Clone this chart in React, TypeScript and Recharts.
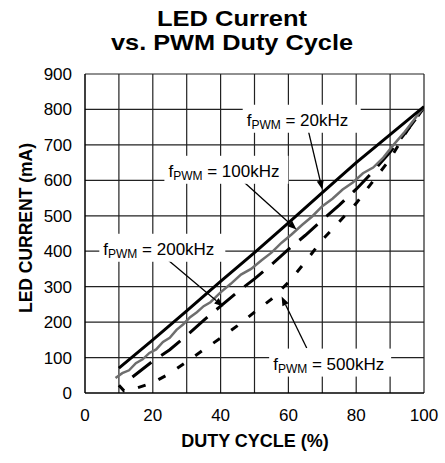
import React from "react";
import {
  LineChart,
  Line,
  XAxis,
  YAxis,
  ReferenceLine,
  ReferenceDot,
} from "recharts";

// axis ticks and grid
const dutyTicks = [0, 20, 40, 60, 80, 100];
const dutyGrid = [10, 20, 30, 40, 50, 60, 70, 80, 90, 100];
const currentTicks = [0, 100, 200, 300, 400, 500, 600, 700, 800, 900];

// f_PWM = 20kHz (solid)
const duty20k = [10, 20, 30, 40, 50, 60, 70, 80, 90, 100];
const current20k = [70, 150, 232, 315, 396, 480, 565, 650, 729, 808];

// f_PWM = 100kHz (grey, jagged)
const duty100k = [9, 11, 13, 15, 17, 19, 21, 23, 25, 27, 29, 31, 33, 35, 37, 40, 43, 46, 49, 52, 55, 58, 61, 64, 67, 70, 73, 76, 79, 82, 85, 88, 91, 94, 97, 100];
const current100k = [42, 56, 64, 84, 95, 113, 123, 144, 156, 178, 194, 214, 228, 245, 256, 284, 308, 334, 350, 374, 396, 424, 448, 474, 498, 527, 548, 574, 594, 620, 636, 664, 700, 733, 770, 808];

// f_PWM = 200kHz (long dash)
const duty200k = [14, 20, 25, 30, 35, 40, 45, 50, 55, 60, 65, 70, 75, 80, 85, 90, 95, 100];
const current200k = [45, 90, 122, 162, 205, 245, 285, 322, 362, 405, 445, 488, 530, 575, 625, 680, 740, 805];

// f_PWM = 500kHz (short dash)
const duty500k = [10, 11.5, 15, 20, 25, 30, 35, 40, 45, 50, 55, 60, 65, 70, 75, 80, 85, 90, 95, 100];
const current500k = [22, 6, 13, 29, 55, 88, 122, 155, 190, 228, 265, 312, 370, 432, 483, 535, 598, 660, 740, 805];

// annotation text anchors and arrows (data coords)
const noteLabels = ["20kHz", "100kHz", "200kHz", "500kHz"];
const noteAt = [[47.7, 754], [24.6, 610], [5.4, 390], [55.5, 66]];
const noteBoxW = [118, 124, 126, 122];
const arrowFrom = [[65.8, 743], [46.7, 597], [23.6, 382], [65.4, 127]];
const arrowTo = [[70.0, 574], [62.4, 461], [40.8, 244], [58.0, 272]];

const FONT = "'Liberation Sans', Arial, sans-serif";

const toPoints = (xs: number[], ys: number[]) => xs.map((x, i) => ({ x, y: ys[i] }));

const Arrow = (props: any) => {
  const { x1, y1, x2, y2 } = props;
  if ([x1, y1, x2, y2].some((v) => typeof v !== "number" || isNaN(v))) return null;
  const ang = Math.atan2(y2 - y1, x2 - x1);
  const len = 9;
  const w = 3.5;
  const bx = x2 - len * Math.cos(ang);
  const by = y2 - len * Math.sin(ang);
  const px = -Math.sin(ang) * w;
  const py = Math.cos(ang) * w;
  return (
    <g>
      <line x1={x1} y1={y1} x2={bx} y2={by} stroke="#000" strokeWidth={1.3} />
      <polygon points={`${x2},${y2} ${bx + px},${by + py} ${bx - px},${by - py}`} fill="#000" />
    </g>
  );
};

const Note = ({ cx, cy, label, boxW }: any) => {
  if (typeof cx !== "number" || typeof cy !== "number") return null;
  return (
    <g>
      <rect x={cx - 4} y={cy - 21} width={boxW} height={28} fill="#fff" />
      <text x={cx} y={cy} fontFamily={FONT} fontSize={17} fill="#000">
        f
        <tspan fontSize={12} dy={3}>PWM</tspan>
        <tspan dy={-3}>{" = " + label}</tspan>
      </text>
    </g>
  );
};

export default function App() {
  const s20 = toPoints(duty20k, current20k);
  const s100 = toPoints(duty100k, current100k);
  const s200 = toPoints(duty200k, current200k);
  const s500 = toPoints(duty500k, current500k);

  return (
    <div style={{ position: "absolute", left: 0, top: 0, width: 445, height: 463, background: "#fff" }}>
      <LineChart width={445} height={463} margin={{ top: 74, right: 21, bottom: 40, left: 0 }}>
        <XAxis
          type="number"
          dataKey="x"
          domain={[0, 100]}
          ticks={dutyTicks}
          tickLine={false}
          tickMargin={10}
          height={30}
          axisLine={{ stroke: "#000", strokeWidth: 1.5 }}
          tick={{ fontSize: 17, fill: "#000", fontFamily: FONT }}
          allowDataOverflow
        />
        <YAxis
          type="number"
          domain={[0, 900]}
          ticks={currentTicks}
          tickLine={false}
          tickMargin={7}
          width={85}
          axisLine={{ stroke: "#000", strokeWidth: 1.5 }}
          tick={{ fontSize: 17, fill: "#000", fontFamily: FONT }}
          allowDataOverflow
        />
        {currentTicks.slice(1).map((v) => (
          <ReferenceLine key={"h" + v} y={v} stroke="#222" strokeWidth={1.2} />
        ))}
        {dutyGrid.map((v) => (
          <ReferenceLine key={"v" + v} x={v} stroke="#222" strokeWidth={1.2} />
        ))}
        <Line data={s500} dataKey="y" type="linear" stroke="#000" strokeWidth={3} strokeDasharray="8 14" dot={false} isAnimationActive={false} />
        <Line data={s200} dataKey="y" type="linear" stroke="#000" strokeWidth={3} strokeDasharray="24 12" dot={false} isAnimationActive={false} />
        <Line data={s100} dataKey="y" type="linear" stroke="#6e6e6e" strokeWidth={2.5} dot={false} isAnimationActive={false} />
        <Line data={s20} dataKey="y" type="linear" stroke="#000" strokeWidth={3} dot={false} isAnimationActive={false} />
        {noteLabels.map((lab, i) => (
          <ReferenceDot
            key={"n" + i}
            x={noteAt[i][0]}
            y={noteAt[i][1]}
            r={0}
            shape={(p: any) => <Note {...p} label={lab} boxW={noteBoxW[i]} />}
          />
        ))}
        {noteLabels.map((lab, i) => (
          <ReferenceLine
            key={"a" + lab}
            segment={[
              { x: arrowFrom[i][0], y: arrowFrom[i][1] },
              { x: arrowTo[i][0], y: arrowTo[i][1] },
            ]}
            shape={(p: any) => <Arrow {...p} />}
          />
        ))}
      </LineChart>
      <svg width={445} height={463} style={{ position: "absolute", left: 0, top: 0, pointerEvents: "none" }}>
        <text x={232} y={26} textAnchor="middle" fontFamily={FONT} fontWeight="bold" fontSize={22} textLength={150} lengthAdjust="spacingAndGlyphs">
          LED Current
        </text>
        <text x={232} y={50} textAnchor="middle" fontFamily={FONT} fontWeight="bold" fontSize={22} textLength={242} lengthAdjust="spacingAndGlyphs">
          vs. PWM Duty Cycle
        </text>
        <text x={255} y={447} textAnchor="middle" fontFamily={FONT} fontWeight="bold" fontSize={18}>
          DUTY CYCLE (%)
        </text>
        <text transform="translate(31.5,228) rotate(-90)" x={0} y={0} textAnchor="middle" fontFamily={FONT} fontWeight="bold" fontSize={17.5}>
          LED CURRENT (mA)
        </text>
      </svg>
    </div>
  );
}
